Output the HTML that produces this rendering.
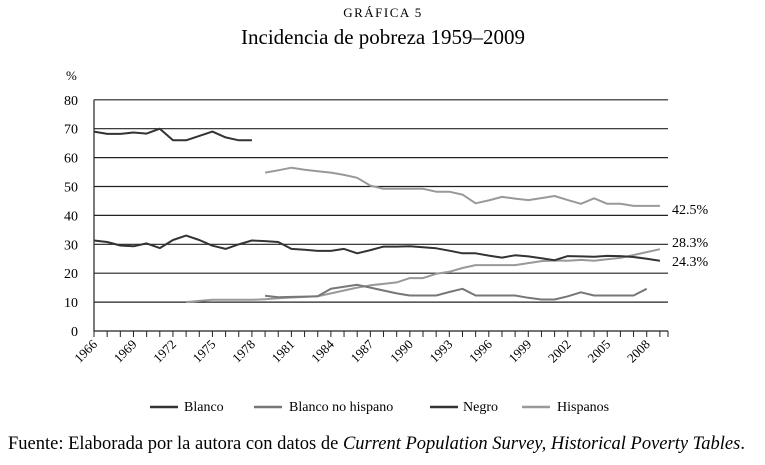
<!DOCTYPE html>
<html><head><meta charset="utf-8"><style>
body{margin:0;background:#fff;width:765px;height:460px;overflow:hidden;font-family:"Liberation Serif",serif;}
</style></head><body>
<svg width="765" height="460" style="font-family:'Liberation Serif',serif">
<text x="383" y="17" text-anchor="middle" font-size="13" letter-spacing="1.5">GRÁFICA 5</text>
<text x="383" y="44" text-anchor="middle" font-size="21">Incidencia de pobreza 1959–2009</text>
<text x="66" y="80" font-size="13">%</text>
<g id="grid"></g><g id="axes"></g><g id="series"></g>
<text x="672" y="214" font-size="14">42.5%</text>
<text x="672" y="247" font-size="14">28.3%</text>
<text x="672" y="266" font-size="14">24.3%</text>
<g font-size="14">
<line x1="150" y1="407" x2="178" y2="407" stroke="#333" stroke-width="2.5"/><text x="184" y="411">Blanco</text>
<line x1="254" y1="407" x2="282" y2="407" stroke="#777" stroke-width="2.5"/><text x="289" y="411">Blanco no hispano</text>
<line x1="430" y1="407" x2="458" y2="407" stroke="#333" stroke-width="2.5"/><text x="463" y="411">Negro</text>
<line x1="522" y1="407" x2="550" y2="407" stroke="#999" stroke-width="2.5"/><text x="557" y="411">Hispanos</text>
</g>
<text x="8" y="449" font-size="18.5">Fuente: Elaborada por la autora con datos de <tspan font-style="italic">Current Population Survey, Historical Poverty Tables</tspan>.</text>
</svg>
<script>
const yTicks=[0,10,20,30,40,50,60,70,80];
const xLabels=[1966,1969,1972,1975,1978,1981,1984,1987,1990,1993,1996,1999,2002,2005,2008];
const topYears=[1966,1967,1968,1969,1970,1971,1972,1973,1974,1975,1976,1977,1978];
const topVals=[69,68.2,68.2,68.7,68.3,70,66,66,67.5,69,67,66,66];
const midStart=1966;
const midVals=[31.3,30.8,29.6,29.3,30.3,28.7,31.5,33,31.5,29.5,28.4,30,31.3,31.1,30.8,28.4,28.1,27.7,27.7,28.4,26.9,28,29.2,29.2,29.3,29,28.6,27.8,26.9,26.9,26.1,25.4,26.2,25.8,25.2,24.5,25.9,25.8,25.7,26,25.9,25.6,25,24.3];
const hispStart=1979;
const hispVals=[54.8,55.6,56.5,55.8,55.3,54.8,54,53,50.3,49.2,49.2,49.2,49.2,48.2,48.2,47.2,44.2,45.2,46.4,45.8,45.3,46,46.7,45.3,44,45.9,44,44,43.3,43.3,43.3];
const medStart=1979;
const medVals=[12.2,11.7,11.8,11.9,12,14.6,15.3,16,15,14,13,12.3,12.3,12.3,13.5,14.6,12.3,12.3,12.3,12.3,11.5,10.9,10.9,12,13.4,12.3,12.3,12.3,12.3,14.6];
const lightStart=1973;
const lightVals=[10,10.4,10.8,10.8,10.8,10.8,11,11.3,11.6,11.8,12,13,14,15,15.8,16.3,16.8,18.3,18.3,19.8,20.5,21.8,22.8,22.8,22.8,22.8,23.5,24.2,24.4,24.3,24.6,24.3,24.8,25.3,26.3,27.3,28.3];

const NS='http://www.w3.org/2000/svg';
const X0=94,XS=13.16,Y0=331,YS=2.89,XEND=668;
const x=yr=>X0+(yr-1966)*XS;
const y=v=>Y0-v*YS;
function mk(tag,attrs,parent){const e=document.createElementNS(NS,tag);for(const k in attrs)e.setAttribute(k,attrs[k]);document.getElementById(parent).appendChild(e);return e;}
yTicks.forEach(v=>{
  if(v>0){const l=mk('line',{x1:X0,x2:XEND,y1:y(v),y2:y(v),stroke:'#222','stroke-width':1.2},'grid');
  
  }
  const t=mk('text',{x:78,y:y(v)+5,'text-anchor':'end','font-size':14},'axes');t.textContent=v;
  
  
});
const ax=mk('path',{d:`M${X0},${y(80)}V${Y0}H${XEND}`,stroke:'#222',fill:'none','stroke-width':1.2},'axes');


for(let yr=1966;yr<=2009;yr++){const tk=mk('line',{x1:x(yr),x2:x(yr),y1:Y0,y2:Y0+6,stroke:'#222'},'axes');

}
const tkEnd=mk('line',{x1:XEND,x2:XEND,y1:Y0,y2:Y0+6,stroke:'#222'},'axes');


xLabels.forEach(yr=>{const px=x(yr)+4,py=Y0+14;
  const t=mk('text',{x:px,y:py,'text-anchor':'end','font-size':13,transform:`rotate(-45 ${px} ${py})`},'axes');t.textContent=yr;
  
  
});
function line(start,vals,color,name,years){
  const pts=vals.map((v,i)=>`${x(years?years[i]:start+i).toFixed(1)},${y(v).toFixed(1)}`).join(' ');
  const p=mk('polyline',{points:pts,fill:'none',stroke:color,'stroke-width':2,'stroke-linejoin':'round'},'series');
  
  
}
line(0,topVals,'#333','series-negro-early',topYears);
line(lightStart,lightVals,'#999','series-light-rising');
line(medStart,medVals,'#777','series-blanco-no-hispano');
line(hispStart,hispVals,'#999','series-hispanos');
line(midStart,midVals,'#333','series-dark-mid');
</script>
</body></html>
